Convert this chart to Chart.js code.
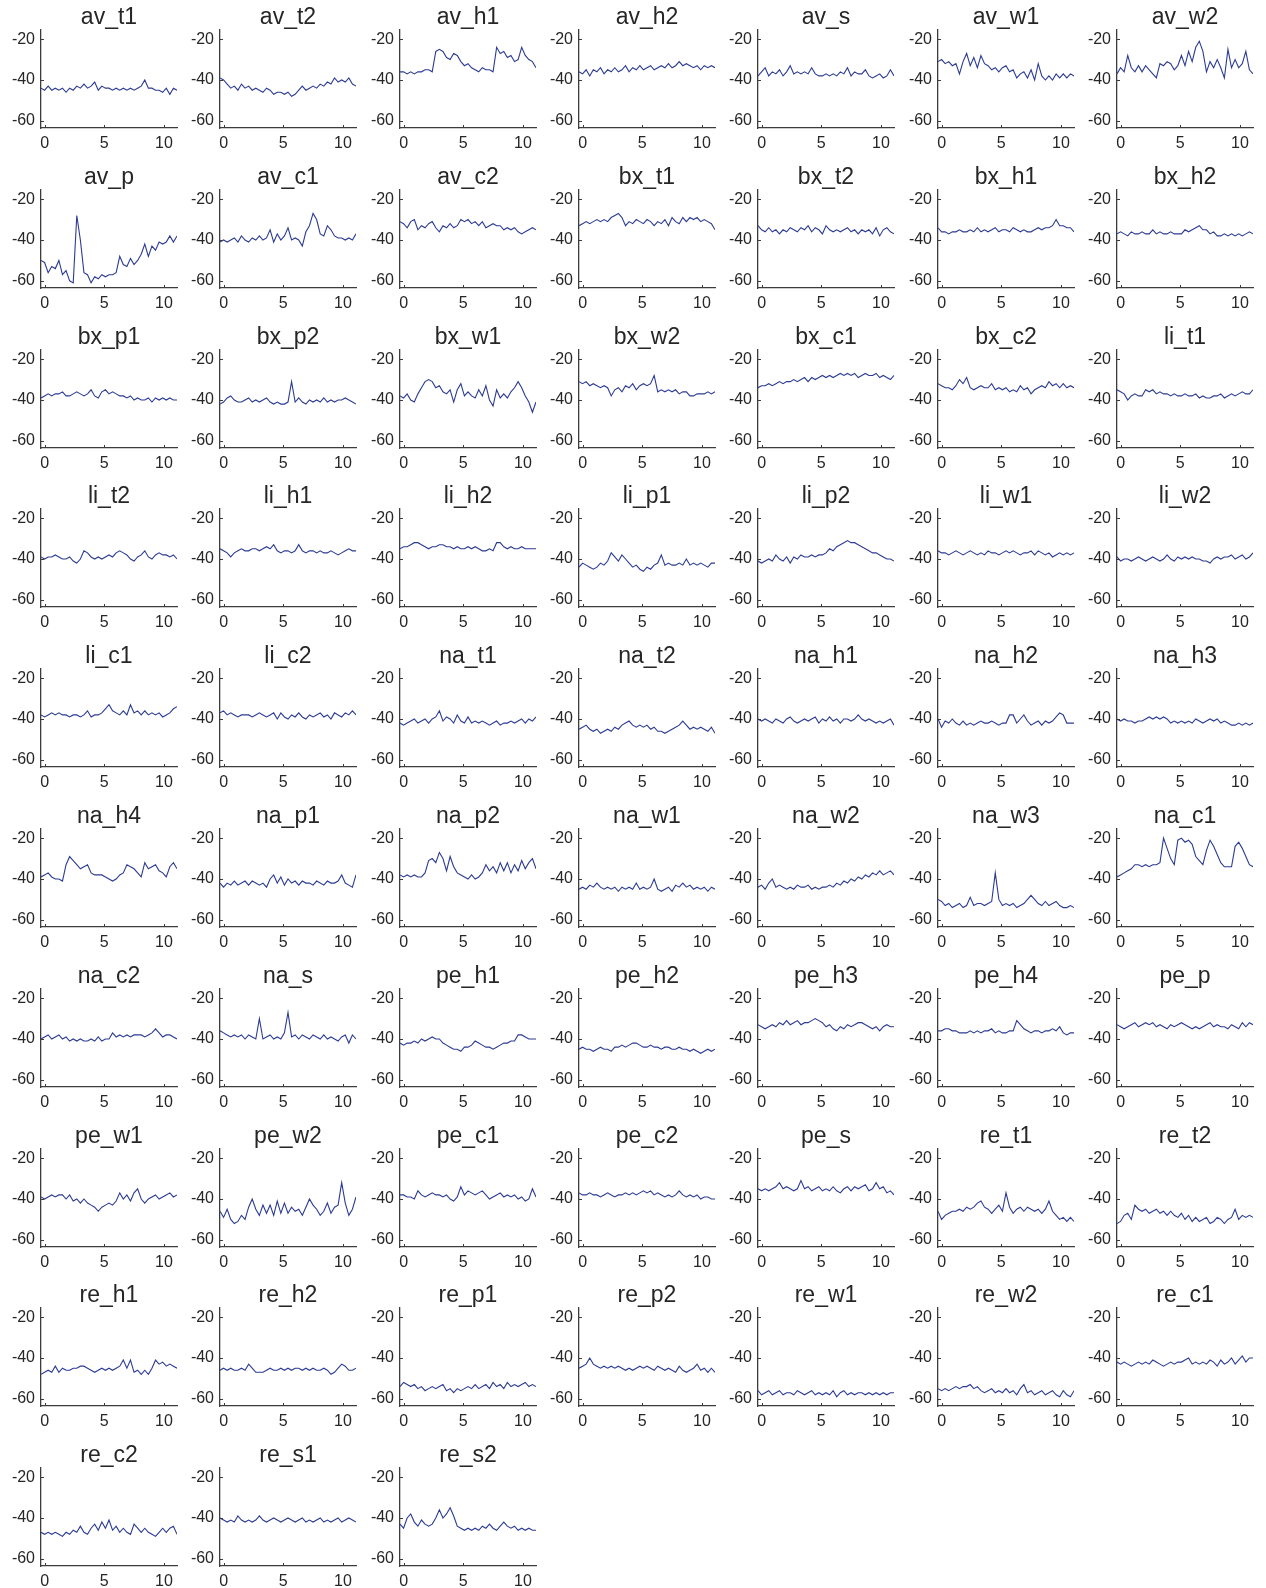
<!DOCTYPE html>
<html>
<head>
<meta charset="utf-8">
<script src="https://cdn.jsdelivr.net/npm/chart.js@4.4.0/dist/chart.umd.min.js"></script>
<style>
  html, body { margin: 0; padding: 0; background: #ffffff; }
  #sheet { position: relative; width: 1266px; height: 1588px; overflow: hidden; }
  #sheet canvas { position: absolute; }
</style>
</head>
<body>
<div id="sheet"></div>
<script>
// sample times shared by every panel
const sampleTimes = [-0.3,0,0.3,0.6,0.9,1.2,1.5,1.8,2.1,2.4,2.7,3.0,3.3,3.6,3.9,4.2,4.5,4.8,5.1,5.4,
  5.7,6.0,6.3,6.6,6.9,7.2,7.5,7.8,8.1,8.4,8.7,9.0,9.3,9.6,9.9,10.2,10.5,10.8,11.1];
const xTicks = [0, 5, 10];
const yTicks = [-60, -40, -20];

// --- series (dB) ---
const av_t1 = [-44,-45,-43,-45,-44,-45,-44,-46,-44,-45,-43,-44,-42,-44,-43,-41,-45,-43,-44,-44,-45,-44,-45,-44,-45,-44,-45,-44,-43,-40,-44,-44,-45,-45,-46,-44,-47,-44,-45];
const av_t2 = [-39,-40,-42,-44,-43,-45,-42,-44,-43,-45,-44,-45,-46,-44,-45,-47,-46,-46,-47,-46,-48,-47,-45,-43,-45,-44,-43,-44,-42,-43,-41,-42,-39,-41,-40,-41,-39,-42,-43];
const av_h1 = [-36,-36,-37,-36,-37,-36,-36,-35,-35,-36,-26,-25,-26,-29,-30,-27,-28,-31,-33,-32,-34,-35,-36,-34,-35,-35,-36,-24,-27,-26,-29,-28,-31,-30,-24,-28,-30,-31,-34];
const av_h2 = [-36,-37,-35,-38,-35,-36,-34,-37,-35,-36,-34,-36,-35,-33,-36,-34,-35,-33,-35,-34,-33,-35,-34,-33,-34,-32,-34,-33,-31,-33,-32,-33,-34,-33,-35,-33,-34,-33,-34];
const av_s = [-38,-36,-34,-38,-36,-37,-35,-38,-36,-33,-37,-36,-37,-36,-37,-34,-37,-38,-38,-37,-38,-37,-38,-36,-37,-34,-38,-36,-37,-37,-35,-38,-39,-38,-37,-39,-38,-35,-38];
const av_w1 = [-31,-30,-32,-31,-33,-32,-37,-31,-27,-33,-29,-34,-28,-32,-33,-35,-34,-36,-34,-33,-36,-35,-39,-37,-36,-39,-35,-40,-32,-38,-40,-38,-40,-37,-39,-37,-39,-37,-38];
const av_w2 = [-37,-34,-36,-28,-34,-36,-33,-36,-33,-35,-37,-39,-32,-33,-31,-32,-35,-33,-28,-33,-26,-31,-24,-21,-26,-36,-31,-34,-30,-34,-39,-25,-34,-30,-34,-32,-26,-35,-37];
const av_p = [-50,-51,-56,-53,-54,-50,-57,-55,-60,-61,-28,-40,-56,-57,-61,-58,-59,-57,-58,-57,-57,-56,-48,-52,-53,-49,-52,-50,-47,-42,-48,-43,-45,-41,-42,-41,-38,-41,-38];
const av_c1 = [-41,-40,-41,-40,-39,-41,-38,-40,-41,-39,-40,-38,-40,-39,-35,-41,-37,-40,-38,-34,-40,-39,-40,-43,-36,-33,-27,-30,-37,-38,-33,-35,-38,-39,-39,-40,-39,-40,-37];
const av_c2 = [-31,-32,-34,-31,-30,-35,-33,-34,-32,-31,-34,-36,-33,-34,-32,-34,-33,-30,-31,-30,-32,-31,-33,-31,-34,-33,-32,-33,-33,-35,-34,-35,-34,-36,-37,-36,-35,-34,-35];
const bx_t1 = [-33,-32,-31,-32,-31,-30,-31,-30,-31,-29,-28,-27,-29,-33,-31,-32,-30,-31,-32,-30,-31,-33,-31,-32,-30,-33,-29,-31,-32,-29,-31,-29,-30,-29,-31,-30,-31,-32,-35];
const bx_t2 = [-33,-35,-36,-34,-36,-35,-37,-35,-36,-34,-35,-36,-34,-35,-33,-36,-34,-35,-37,-33,-35,-36,-35,-36,-35,-34,-36,-35,-37,-35,-36,-35,-37,-34,-38,-35,-34,-36,-37];
const bx_h1 = [-34,-36,-36,-37,-36,-36,-35,-36,-36,-35,-36,-34,-36,-35,-36,-35,-34,-36,-35,-35,-36,-34,-35,-36,-35,-36,-36,-35,-34,-35,-34,-34,-33,-30,-33,-33,-34,-34,-36];
const bx_h2 = [-37,-36,-37,-38,-36,-37,-37,-36,-37,-37,-35,-37,-36,-37,-37,-36,-37,-37,-37,-35,-36,-35,-34,-33,-35,-35,-37,-36,-38,-38,-37,-38,-37,-38,-37,-38,-37,-36,-37];
const bx_p1 = [-39,-38,-37,-38,-37,-37,-36,-38,-38,-37,-36,-37,-38,-37,-35,-38,-39,-36,-35,-37,-36,-37,-38,-38,-39,-38,-40,-39,-40,-40,-39,-41,-39,-40,-39,-40,-39,-40,-40];
const bx_p2 = [-42,-41,-39,-38,-40,-41,-41,-40,-39,-41,-40,-41,-40,-39,-41,-42,-41,-42,-42,-41,-31,-41,-39,-41,-42,-40,-41,-40,-41,-39,-41,-40,-41,-40,-40,-39,-40,-41,-42];
const bx_w1 = [-38,-39,-37,-40,-41,-37,-34,-31,-30,-31,-34,-33,-36,-37,-35,-41,-35,-32,-38,-36,-38,-39,-35,-38,-33,-40,-43,-35,-39,-37,-39,-36,-34,-31,-34,-38,-41,-46,-41];
const bx_w2 = [-31,-32,-31,-33,-32,-33,-34,-33,-34,-38,-35,-34,-36,-33,-34,-32,-35,-33,-32,-33,-32,-28,-36,-35,-36,-35,-36,-35,-37,-36,-36,-38,-38,-37,-37,-37,-36,-37,-36];
const bx_c1 = [-34,-33,-33,-32,-33,-32,-31,-32,-31,-31,-30,-31,-30,-29,-31,-29,-30,-29,-28,-29,-28,-29,-28,-27,-28,-27,-28,-27,-29,-28,-27,-28,-28,-27,-29,-28,-29,-30,-28];
const bx_c2 = [-32,-33,-34,-34,-35,-33,-30,-32,-29,-34,-35,-34,-33,-34,-34,-32,-35,-34,-35,-34,-36,-35,-36,-33,-35,-34,-37,-35,-34,-33,-34,-31,-33,-32,-34,-32,-34,-33,-34];
const li_t1 = [-35,-36,-37,-40,-38,-37,-38,-38,-35,-36,-35,-37,-36,-37,-37,-38,-37,-38,-38,-37,-38,-38,-37,-39,-38,-39,-39,-38,-38,-37,-39,-38,-37,-38,-37,-36,-37,-37,-35];
const li_t2 = [-39,-40,-39,-39,-38,-39,-40,-40,-39,-41,-42,-40,-36,-37,-39,-40,-39,-40,-39,-38,-39,-37,-36,-37,-38,-40,-41,-39,-38,-36,-39,-40,-38,-37,-38,-38,-39,-38,-40];
const li_h1 = [-35,-36,-37,-39,-37,-36,-35,-36,-36,-35,-35,-36,-35,-34,-35,-33,-36,-37,-36,-36,-37,-36,-33,-36,-37,-36,-36,-37,-36,-37,-37,-36,-37,-38,-37,-36,-35,-36,-36];
const li_h2 = [-35,-34,-34,-33,-32,-32,-33,-34,-35,-34,-34,-33,-33,-34,-34,-35,-34,-35,-35,-34,-35,-34,-35,-36,-36,-35,-36,-32,-32,-34,-35,-34,-35,-35,-34,-35,-35,-35,-35];
const li_p1 = [-44,-42,-43,-44,-45,-44,-42,-43,-41,-37,-39,-41,-38,-40,-42,-44,-43,-45,-46,-44,-45,-43,-42,-38,-43,-42,-43,-43,-42,-43,-40,-43,-42,-43,-42,-43,-44,-42,-42];
const li_p2 = [-41,-42,-41,-40,-41,-38,-40,-41,-39,-42,-39,-40,-38,-39,-39,-38,-39,-38,-38,-37,-35,-36,-34,-33,-32,-31,-32,-32,-33,-34,-35,-36,-37,-37,-38,-39,-40,-40,-41];
const li_w1 = [-36,-37,-37,-38,-37,-36,-37,-38,-37,-36,-37,-38,-37,-38,-36,-37,-37,-38,-37,-36,-37,-36,-37,-38,-37,-37,-36,-38,-36,-37,-38,-37,-39,-38,-37,-38,-37,-38,-37];
const li_w2 = [-39,-41,-40,-40,-41,-40,-39,-40,-41,-40,-39,-40,-41,-40,-38,-40,-41,-39,-40,-39,-40,-39,-40,-40,-41,-41,-42,-40,-39,-40,-39,-39,-38,-40,-39,-38,-40,-39,-37];
const li_c1 = [-38,-39,-38,-37,-38,-37,-38,-38,-39,-38,-38,-39,-38,-36,-39,-38,-38,-37,-35,-33,-36,-37,-38,-36,-38,-33,-37,-36,-38,-36,-38,-37,-38,-37,-39,-38,-37,-35,-34];
const li_c2 = [-37,-36,-38,-37,-38,-39,-38,-38,-38,-39,-38,-37,-38,-39,-38,-37,-40,-37,-39,-40,-38,-39,-37,-39,-40,-38,-39,-38,-37,-39,-38,-40,-37,-38,-39,-37,-38,-36,-38];
const na_t1 = [-42,-43,-42,-41,-40,-42,-41,-40,-42,-40,-39,-36,-41,-39,-40,-42,-38,-41,-42,-39,-42,-41,-42,-41,-42,-43,-42,-41,-43,-42,-42,-41,-42,-41,-40,-42,-40,-41,-39];
const na_t2 = [-45,-44,-43,-45,-46,-45,-47,-46,-45,-46,-44,-45,-43,-42,-41,-43,-44,-43,-44,-43,-45,-44,-46,-46,-47,-46,-45,-44,-43,-41,-43,-45,-44,-45,-44,-45,-46,-44,-47];
const na_h1 = [-40,-41,-40,-41,-42,-40,-41,-42,-40,-39,-41,-42,-41,-40,-41,-40,-39,-42,-40,-41,-39,-41,-40,-42,-40,-40,-41,-40,-38,-40,-41,-40,-41,-42,-41,-42,-41,-40,-43];
const na_h2 = [-40,-44,-41,-42,-40,-42,-43,-41,-43,-42,-43,-42,-41,-42,-42,-41,-42,-43,-42,-42,-38,-38,-42,-40,-38,-41,-43,-42,-41,-43,-41,-42,-41,-39,-37,-38,-42,-42,-42];
const na_h3 = [-40,-41,-40,-41,-41,-42,-41,-41,-40,-39,-40,-39,-40,-39,-40,-42,-41,-42,-41,-42,-41,-42,-40,-41,-42,-41,-40,-41,-40,-42,-41,-42,-43,-43,-42,-43,-42,-43,-42];
const na_h4 = [-39,-38,-37,-39,-40,-40,-41,-33,-29,-31,-33,-35,-34,-33,-37,-38,-38,-38,-39,-40,-41,-40,-38,-37,-33,-34,-35,-37,-39,-32,-35,-34,-33,-36,-37,-39,-34,-32,-35];
const na_p1 = [-42,-44,-42,-43,-41,-43,-42,-41,-43,-41,-42,-43,-42,-44,-40,-38,-42,-39,-43,-40,-42,-41,-43,-41,-42,-42,-43,-41,-42,-43,-41,-42,-42,-41,-38,-42,-43,-44,-38];
const na_p2 = [-38,-39,-38,-39,-38,-39,-39,-37,-31,-30,-32,-27,-30,-36,-29,-34,-37,-38,-39,-40,-38,-40,-39,-37,-33,-36,-34,-37,-32,-36,-32,-37,-33,-36,-31,-35,-32,-30,-35];
const na_w1 = [-45,-44,-45,-43,-44,-42,-44,-45,-44,-45,-44,-46,-44,-45,-44,-45,-42,-45,-44,-45,-44,-40,-45,-46,-45,-44,-46,-43,-44,-42,-44,-43,-45,-44,-45,-44,-46,-44,-45];
const na_w2 = [-44,-43,-45,-42,-40,-44,-43,-44,-45,-44,-45,-43,-44,-44,-43,-45,-44,-45,-44,-44,-43,-44,-42,-43,-41,-42,-40,-41,-39,-40,-38,-39,-37,-38,-36,-38,-37,-36,-38];
const na_w3 = [-50,-51,-53,-52,-54,-53,-52,-54,-53,-49,-53,-52,-52,-53,-52,-51,-37,-50,-53,-52,-53,-52,-54,-53,-52,-50,-48,-50,-52,-53,-51,-53,-52,-51,-53,-54,-54,-53,-54];
const na_c1 = [-39,-38,-37,-36,-35,-33,-33,-34,-33,-34,-33,-33,-32,-20,-25,-30,-33,-21,-20,-22,-21,-23,-29,-31,-33,-26,-21,-24,-28,-32,-34,-34,-34,-24,-22,-25,-29,-33,-34];
const na_c2 = [-40,-39,-38,-40,-39,-38,-40,-39,-41,-40,-41,-40,-41,-41,-40,-41,-39,-41,-40,-40,-37,-39,-38,-39,-38,-39,-38,-38,-38,-39,-38,-37,-35,-37,-39,-38,-38,-39,-40];
const na_s = [-36,-37,-38,-39,-38,-39,-38,-40,-38,-39,-40,-30,-40,-39,-38,-40,-39,-40,-37,-27,-39,-38,-40,-38,-39,-40,-38,-39,-40,-38,-40,-39,-40,-41,-39,-38,-42,-38,-40];
const pe_h1 = [-42,-43,-42,-42,-41,-42,-40,-41,-40,-39,-40,-40,-42,-43,-44,-45,-45,-46,-44,-44,-43,-41,-42,-43,-44,-44,-45,-44,-43,-42,-42,-41,-41,-38,-38,-39,-40,-40,-40];
const pe_h2 = [-45,-44,-45,-45,-46,-45,-44,-45,-45,-46,-44,-44,-43,-44,-43,-42,-42,-43,-44,-44,-43,-44,-44,-45,-44,-44,-45,-45,-44,-45,-45,-46,-45,-46,-47,-46,-45,-46,-45];
const pe_h3 = [-33,-34,-35,-34,-33,-34,-32,-33,-31,-33,-32,-31,-33,-32,-32,-31,-30,-31,-32,-34,-33,-35,-36,-34,-35,-33,-34,-33,-32,-32,-33,-34,-35,-34,-36,-34,-33,-34,-34];
const pe_h4 = [-36,-36,-35,-35,-36,-36,-37,-37,-37,-36,-37,-36,-37,-36,-36,-35,-37,-36,-37,-37,-36,-36,-31,-33,-35,-36,-37,-36,-36,-37,-36,-36,-35,-36,-34,-37,-38,-37,-37];
const pe_p = [-33,-34,-35,-34,-33,-32,-34,-33,-32,-33,-32,-34,-33,-34,-35,-33,-34,-33,-32,-33,-34,-35,-34,-35,-34,-33,-32,-34,-33,-34,-34,-35,-33,-34,-35,-32,-34,-32,-33];
const pe_w1 = [-39,-40,-39,-38,-39,-38,-38,-40,-38,-41,-40,-42,-40,-42,-43,-44,-46,-44,-43,-42,-43,-41,-37,-40,-38,-41,-37,-35,-40,-42,-40,-39,-38,-40,-39,-38,-37,-39,-38];
const pe_w2 = [-46,-49,-45,-50,-52,-51,-48,-50,-44,-40,-45,-48,-43,-47,-43,-48,-41,-47,-42,-47,-44,-46,-45,-48,-44,-40,-43,-45,-48,-46,-42,-47,-44,-43,-32,-42,-48,-45,-39];
const pe_c1 = [-38,-38,-39,-39,-40,-36,-38,-39,-38,-37,-38,-38,-39,-38,-40,-41,-39,-34,-38,-36,-37,-38,-37,-36,-38,-40,-39,-38,-37,-39,-38,-39,-38,-40,-39,-41,-40,-35,-39];
const pe_c2 = [-37,-38,-38,-37,-38,-38,-39,-38,-37,-38,-39,-38,-38,-37,-38,-37,-38,-37,-36,-37,-36,-38,-37,-38,-39,-38,-39,-38,-36,-38,-39,-38,-39,-38,-40,-39,-39,-40,-40];
const pe_s = [-35,-36,-35,-36,-35,-34,-32,-35,-34,-35,-36,-35,-31,-35,-34,-36,-35,-34,-36,-35,-36,-34,-36,-37,-35,-34,-36,-34,-35,-34,-33,-36,-35,-32,-35,-34,-37,-36,-38];
const re_t1 = [-46,-50,-48,-47,-46,-46,-45,-46,-44,-45,-44,-42,-41,-44,-45,-47,-45,-43,-46,-37,-44,-47,-45,-44,-46,-44,-45,-46,-45,-47,-45,-41,-46,-48,-50,-49,-51,-49,-51];
const re_t2 = [-52,-51,-48,-47,-50,-43,-45,-46,-45,-47,-46,-45,-47,-46,-48,-46,-48,-49,-47,-50,-48,-51,-49,-51,-50,-49,-52,-51,-49,-50,-52,-50,-49,-45,-50,-48,-49,-48,-49];
const re_h1 = [-48,-47,-46,-47,-44,-47,-45,-46,-46,-45,-45,-44,-44,-45,-46,-47,-46,-45,-46,-45,-46,-45,-44,-41,-45,-41,-47,-46,-48,-46,-48,-45,-41,-43,-42,-44,-43,-44,-45];
const re_h2 = [-46,-45,-46,-45,-46,-46,-45,-46,-43,-45,-47,-47,-47,-46,-45,-46,-46,-45,-46,-45,-46,-45,-45,-46,-45,-46,-45,-46,-46,-45,-46,-48,-47,-45,-43,-44,-46,-46,-45];
const re_p1 = [-54,-52,-53,-54,-53,-55,-54,-56,-55,-54,-55,-54,-53,-56,-55,-57,-55,-56,-55,-54,-55,-53,-55,-54,-53,-55,-52,-54,-53,-55,-52,-54,-53,-54,-53,-52,-54,-53,-54];
const re_p2 = [-45,-44,-43,-40,-43,-44,-45,-44,-45,-44,-45,-44,-45,-46,-45,-46,-45,-44,-45,-44,-45,-46,-44,-45,-46,-45,-46,-47,-44,-46,-47,-46,-45,-43,-46,-45,-47,-45,-47];
const re_w1 = [-56,-58,-57,-56,-58,-57,-56,-58,-57,-57,-58,-56,-57,-58,-57,-56,-58,-57,-58,-57,-58,-56,-59,-57,-56,-58,-57,-58,-57,-57,-58,-57,-58,-57,-58,-57,-58,-57,-57];
const re_w2 = [-55,-56,-55,-56,-55,-54,-55,-54,-54,-53,-55,-54,-56,-57,-56,-55,-57,-56,-57,-55,-57,-56,-58,-55,-53,-57,-56,-58,-57,-56,-58,-57,-56,-58,-59,-56,-58,-59,-56];
const re_c1 = [-42,-43,-42,-43,-44,-43,-42,-43,-42,-43,-41,-42,-43,-44,-43,-42,-43,-42,-42,-41,-40,-43,-42,-43,-42,-43,-41,-42,-44,-41,-43,-42,-40,-43,-41,-39,-42,-40,-40];
const re_c2 = [-47,-48,-47,-48,-47,-48,-49,-47,-48,-46,-47,-44,-47,-48,-45,-43,-46,-42,-45,-41,-46,-44,-47,-45,-47,-48,-43,-45,-47,-45,-47,-48,-49,-47,-45,-47,-45,-44,-48];
const re_s1 = [-40,-41,-42,-41,-42,-39,-41,-42,-41,-42,-41,-39,-41,-42,-41,-40,-41,-42,-41,-40,-41,-42,-41,-40,-42,-41,-42,-41,-40,-42,-41,-42,-41,-40,-42,-41,-40,-41,-42];
const re_s2 = [-43,-45,-40,-38,-42,-44,-41,-43,-44,-43,-40,-36,-40,-38,-35,-39,-44,-45,-46,-45,-46,-45,-46,-44,-45,-43,-45,-46,-44,-42,-44,-45,-44,-46,-45,-46,-45,-46,-46];

// panel order, row by row (7 per row)
const panelTitles = ['av_t1','av_t2','av_h1','av_h2','av_s','av_w1','av_w2',
  'av_p','av_c1','av_c2','bx_t1','bx_t2','bx_h1','bx_h2',
  'bx_p1','bx_p2','bx_w1','bx_w2','bx_c1','bx_c2','li_t1',
  'li_t2','li_h1','li_h2','li_p1','li_p2','li_w1','li_w2',
  'li_c1','li_c2','na_t1','na_t2','na_h1','na_h2','na_h3',
  'na_h4','na_p1','na_p2','na_w1','na_w2','na_w3','na_c1',
  'na_c2','na_s','pe_h1','pe_h2','pe_h3','pe_h4','pe_p',
  'pe_w1','pe_w2','pe_c1','pe_c2','pe_s','re_t1','re_t2',
  're_h1','re_h2','re_p1','re_p2','re_w1','re_w2','re_c1',
  're_c2','re_s1','re_s2'];
const panelSeries = [av_t1,av_t2,av_h1,av_h2,av_s,av_w1,av_w2,
  av_p,av_c1,av_c2,bx_t1,bx_t2,bx_h1,bx_h2,
  bx_p1,bx_p2,bx_w1,bx_w2,bx_c1,bx_c2,li_t1,
  li_t2,li_h1,li_h2,li_p1,li_p2,li_w1,li_w2,
  li_c1,li_c2,na_t1,na_t2,na_h1,na_h2,na_h3,
  na_h4,na_p1,na_p2,na_w1,na_w2,na_w3,na_c1,
  na_c2,na_s,pe_h1,pe_h2,pe_h3,pe_h4,pe_p,
  pe_w1,pe_w2,pe_c1,pe_c2,pe_s,re_t1,re_t2,
  re_h1,re_h2,re_p1,re_p2,re_w1,re_w2,re_c1,
  re_c2,re_s1,re_s2];

// layout (px)
const COLS = 7;
const AXIS_X0 = 40.7, COL_STEP = 179.4;
const AXIS_TOP0 = 30.0, ROW_STEP = 159.8;
const Y_AXIS_W = 40, TITLE_H = 32, X_AXIS_H = 26, PAD_RIGHT = 4;
const CANVAS_W = 180, CANVAS_H = 156;

const FONT = "'Liberation Sans', Arial, Helvetica, sans-serif";
const TEXT_COLOR = '#262626';
const AXIS_COLOR = '#3c3c3c';
const LINE_COLOR = '#2c3b94';

// small inward tick marks, like the original plots
const inwardTicks = {
  id: 'inwardTicks',
  afterDraw(chart) {
    const { ctx, chartArea, scales } = chart;
    ctx.save();
    ctx.strokeStyle = AXIS_COLOR;
    ctx.lineWidth = 1;
    ctx.beginPath();
    xTicks.forEach(v => {
      const px = Math.round(scales.x.getPixelForValue(v)) + 0.5;
      ctx.moveTo(px, chartArea.bottom);
      ctx.lineTo(px, chartArea.bottom - 3);
    });
    yTicks.forEach(v => {
      const py = Math.round(scales.y.getPixelForValue(v)) + 0.5;
      ctx.moveTo(chartArea.left, py);
      ctx.lineTo(chartArea.left + 3, py);
    });
    ctx.stroke();
    ctx.restore();
  }
};

const sheet = document.getElementById('sheet');

panelTitles.forEach((title, i) => {
  const col = i % COLS, row = Math.floor(i / COLS);
  const canvas = document.createElement('canvas');
  canvas.width = CANVAS_W;
  canvas.height = CANVAS_H;
  canvas.style.left = Math.round(AXIS_X0 + col * COL_STEP - Y_AXIS_W) + 'px';
  canvas.style.top = Math.round(AXIS_TOP0 + row * ROW_STEP - TITLE_H) + 'px';
  sheet.appendChild(canvas);

  const series = panelSeries[i];

  new Chart(canvas, {
    type: 'line',
    data: {
      datasets: [{
        data: sampleTimes.map((t, k) => ({ x: t, y: series[k] })),
        borderColor: LINE_COLOR,
        borderWidth: 1.1,
        pointRadius: 0,
        tension: 0,
        fill: false
      }]
    },
    options: {
      responsive: false,
      animation: false,
      devicePixelRatio: 1,
      layout: { padding: { left: 0, right: PAD_RIGHT, top: 0, bottom: 0 } },
      plugins: {
        legend: { display: false },
        tooltip: { enabled: false },
        title: {
          display: true,
          text: title,
          fullSize: false,
          color: TEXT_COLOR,
          font: { family: FONT, size: 23, weight: 'normal', lineHeight: 1.05 },
          padding: { top: 7.8, bottom: 0 }
        }
      },
      scales: {
        x: {
          type: 'linear',
          min: -0.3,
          max: 11.1,
          afterBuildTicks: s => { s.ticks = xTicks.map(v => ({ value: v })); },
          afterFit: s => { s.height = X_AXIS_H; },
          grid: { display: false, drawTicks: false },
          border: { display: true, color: AXIS_COLOR, width: 1.3 },
          ticks: { color: TEXT_COLOR, padding: 6, maxRotation: 0, font: { family: FONT, size: 16 } }
        },
        y: {
          type: 'linear',
          min: -63.5,
          max: -15.5,
          afterBuildTicks: s => { s.ticks = yTicks.map(v => ({ value: v })); },
          afterFit: s => { s.width = Y_AXIS_W; },
          grid: { display: false, drawTicks: false },
          border: { display: true, color: AXIS_COLOR, width: 1.3 },
          ticks: { color: TEXT_COLOR, padding: 6, font: { family: FONT, size: 16 } }
        }
      }
    },
    plugins: [inwardTicks]
  });
});
</script>
</body>
</html>
